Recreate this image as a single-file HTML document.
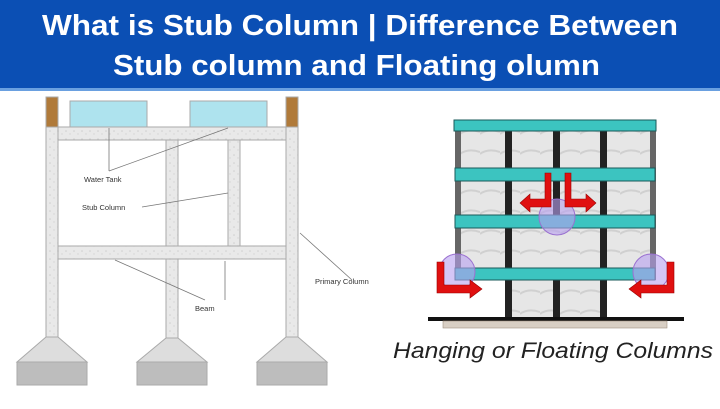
<!DOCTYPE html>
<html><head><meta charset="utf-8"><style>
body{margin:0;width:720px;height:404px;overflow:hidden;background:#fff;font-family:"Liberation Sans",sans-serif}
</style></head><body>
<svg width="720" height="404" viewBox="0 0 720 404" xmlns="http://www.w3.org/2000/svg">
<defs>
<pattern id="tex" width="8" height="8" patternUnits="userSpaceOnUse"><rect width="8" height="8" fill="#e9e9e9"/><circle cx="2" cy="3" r="0.8" fill="#cfcfcf"/><circle cx="6" cy="6" r="0.7" fill="#d5d5d5"/></pattern>
<pattern id="marb" width="20" height="20" patternUnits="userSpaceOnUse"><rect width="20" height="20" fill="#e6e6e6"/><path d="M0 14 Q8 8 20 12" stroke="#d0d0d0" stroke-width="2" fill="none"/></pattern>
</defs>
<rect x="0" y="0" width="720" height="88" fill="#0b4fb4"/>
<rect x="0" y="88" width="720" height="3" fill="#6aa0e0"/>
<text x="42" y="35" font-size="29" font-weight="bold" fill="#fff" textLength="636" lengthAdjust="spacingAndGlyphs">What is Stub Column | Difference Between</text>
<text x="113" y="75" font-size="29" font-weight="bold" fill="#fff" textLength="487" lengthAdjust="spacingAndGlyphs">Stub column and Floating olumn</text>

<!-- left diagram -->
<g stroke="#aaa" stroke-width="1">
<rect x="46" y="127" width="12" height="210" fill="url(#tex)"/>
<rect x="166" y="140" width="12" height="198" fill="url(#tex)"/>
<rect x="286" y="127" width="12" height="210" fill="url(#tex)"/>
<rect x="228" y="140" width="12" height="106" fill="url(#tex)"/>
<rect x="58" y="127" width="228" height="13" fill="url(#tex)"/>
<rect x="58" y="246" width="228" height="13" fill="url(#tex)"/>
<rect x="70" y="101" width="77" height="26" fill="#aee3ee"/>
<rect x="190" y="101" width="77" height="26" fill="#aee3ee"/>
<rect x="46" y="97" width="12" height="30" fill="#b07a3a"/>
<rect x="286" y="97" width="12" height="30" fill="#b07a3a"/>
<polygon points="46,337 58,337 87,362 17,362" fill="#ddd"/>
<polygon points="166,338 178,338 207,362 137,362" fill="#ddd"/>
<polygon points="286,337 298,337 327,362 257,362" fill="#ddd"/>
<rect x="17" y="362" width="70" height="23" fill="#bdbdbd"/>
<rect x="137" y="362" width="70" height="23" fill="#bdbdbd"/>
<rect x="257" y="362" width="70" height="23" fill="#bdbdbd"/>
</g>
<g stroke="#777" stroke-width="0.8" fill="none">
<path d="M109 171 L109 128 M109 171 L228 128"/>
<path d="M142 207 L228 193"/>
<path d="M205 300 L115 260 M225 300 L225 261"/>
<path d="M352 280 L300 233"/>
</g>
<g font-size="7.5" fill="#333">
<text x="84" y="182">Water Tank</text>
<text x="82" y="210">Stub Column</text>
<text x="195" y="311">Beam</text>
<text x="315" y="284">Primary Column</text>
</g>

<!-- right diagram -->
<rect x="455" y="120" width="200" height="160" fill="url(#marb)"/>
<rect x="505" y="280" width="102" height="38" fill="url(#marb)"/>
<g fill="#222">
<rect x="455" y="120" width="6" height="160" fill="#666"/>
<rect x="650" y="120" width="6" height="160" fill="#666"/>
<rect x="505" y="120" width="7" height="198"/>
<rect x="553" y="120" width="7" height="108"/>
<rect x="553" y="280" width="7" height="38"/>
<rect x="600" y="120" width="7" height="198"/>
</g>
<g fill="#3cc4c0" stroke="#1a5a5a" stroke-width="1">
<rect x="454" y="120" width="202" height="11"/>
<rect x="455" y="168" width="200" height="13"/>
<rect x="455" y="215" width="200" height="13"/>
<rect x="455" y="268" width="200" height="12"/>
</g>
<g fill="#b8a0f0" fill-opacity="0.6" stroke="#9a70d0">
<circle cx="557" cy="217" r="18"/>
<circle cx="457" cy="272" r="18"/>
<circle cx="651" cy="272" r="18"/>
</g>
<g fill="#e01010" stroke="#900" stroke-width="0.6">
<polygon points="545,173 551,173 551,207 530,207 530,212 520,203 530,194 530,199 545,199"/>
<polygon points="571,173 565,173 565,207 586,207 586,212 596,203 586,194 586,199 571,199"/>
<polygon points="437,262 444,262 444,285 470,285 470,280 482,289 470,298 470,293 437,293"/>
<polygon points="674,262 667,262 667,285 641,285 641,280 629,289 641,298 641,293 674,293"/>
</g>
<rect x="428" y="317" width="256" height="4" fill="#111"/>
<rect x="443" y="321" width="224" height="7" fill="#d8cfc4" stroke="#a09080" stroke-width="0.6"/>
<text x="393" y="358" font-size="22" font-style="italic" fill="#222" textLength="320" lengthAdjust="spacingAndGlyphs">Hanging or Floating Columns</text>
</svg>
</body></html>
